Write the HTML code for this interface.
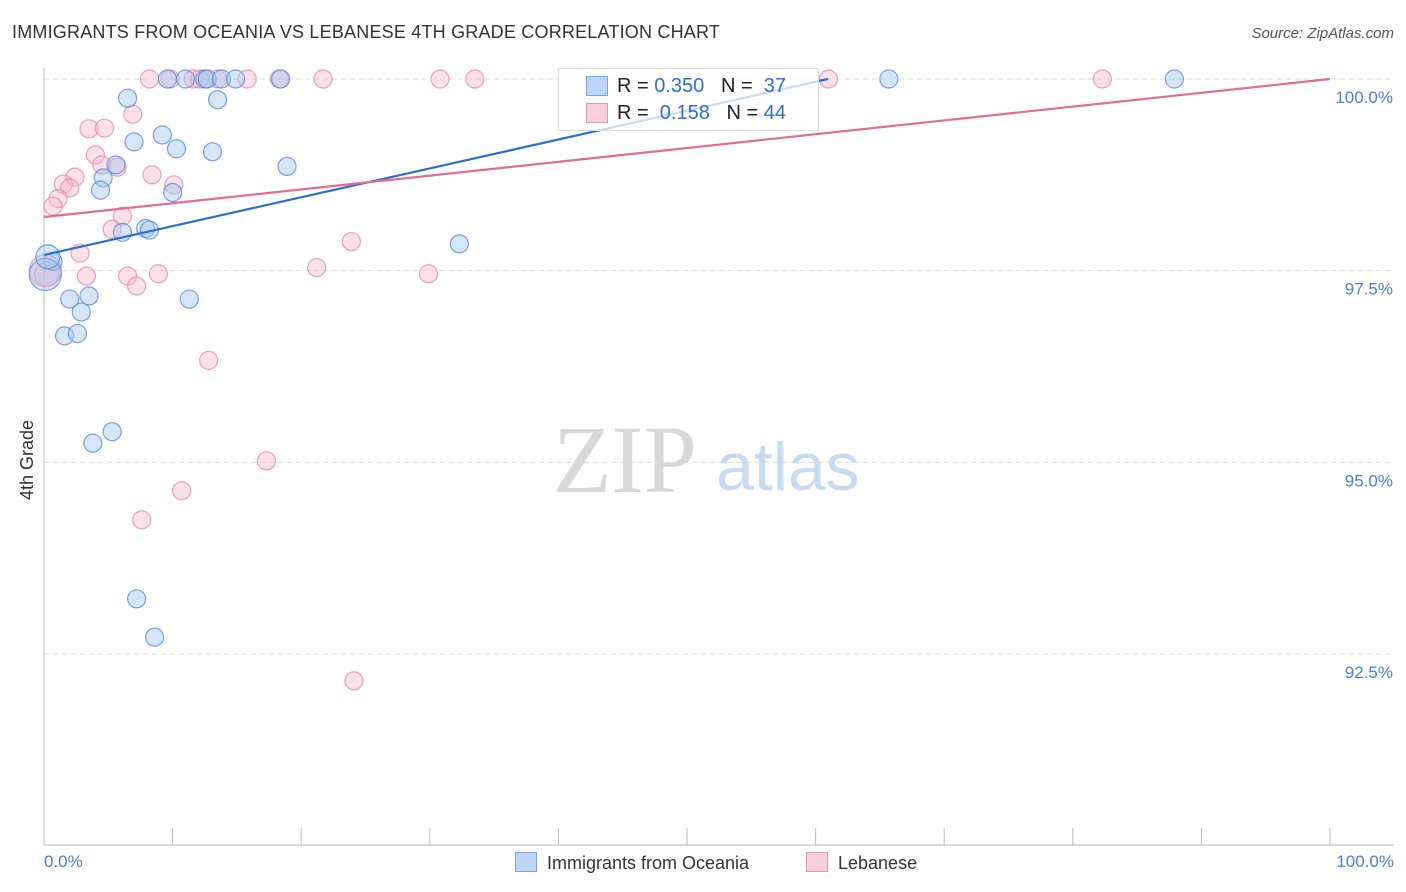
<!DOCTYPE html>
<html><head><meta charset="utf-8"><style>
body{margin:0;background:#fff;font-family:"Liberation Sans",sans-serif;}
#wrap{position:relative;width:1406px;height:892px;overflow:hidden;}
.t{position:absolute;white-space:nowrap;}
</style></head><body>
<div id="wrap">
<div class="t" style="left:12px;top:22px;font-size:18px;color:#333;letter-spacing:0.2px">IMMIGRANTS FROM OCEANIA VS LEBANESE 4TH GRADE CORRELATION CHART</div>
<div class="t" style="right:12px;top:25px;font-size:15px;color:#555;font-style:italic">Source: ZipAtlas.com</div>
<div class="t" style="left:17px;font-size:18px;color:#333;transform:rotate(-90deg);transform-origin:left top;top:500px">4th Grade</div>
<svg id="svg" width="1406" height="892" style="position:absolute;left:0;top:0"></svg>
</div>
<script>
const tickVals=[100,97.5,95,92.5];
const tickLabels=["100.0%","97.5%","95.0%","92.5%"];
const blueX=[9.6,11,12.5,12.7,13.8,14.9,18.4,65.7,87.9,6.5,13.5,9.2,7,10.3,13.1,18.9,5.6,4.6,4.4,10,7.9,8.2,6.1,32.3,0.7,0.1,3.5,2,11.3,2.9,1.6,2.6,5.3,3.8,7.2,8.6,0.3];
const blueY=[100,100,100,100,100,100,100,100,100,99.75,99.73,99.27,99.18,99.09,99.05,98.86,98.88,98.71,98.55,98.52,98.05,98.03,98,97.85,97.62,97.45,97.17,97.13,97.13,96.96,96.65,96.68,95.4,95.25,93.22,92.72,97.68];
const pinkX=[8.2,9.8,11.6,12.1,13.5,15.8,18.3,21.7,30.8,33.5,61,82.3,6.9,3.5,4.7,4,4.5,5.7,8.4,10.1,2.4,1.5,2,1.1,0.7,6.1,5.3,23.9,2.8,21.2,29.9,3.3,6.5,8.9,7.2,0.1,12.8,17.3,10.7,7.6,24.1,0.2];
const pinkY=[100,100,100,100,100,100,100,100,100,100,100,100,99.54,99.35,99.36,99.01,98.88,98.85,98.75,98.62,98.72,98.63,98.58,98.44,98.34,98.21,98.04,97.88,97.73,97.54,97.46,97.43,97.43,97.46,97.3,97.5,96.33,95.02,94.63,94.25,92.15,97.45];
const blueR=[9,9,9,9,9,9,9,9,9,9,9,9,9,9,9,9,9,9,9,9,9,9,9,9,9,16,9,9,9,9,9,9,9,9,9,9,12];
const pinkR=[9,9,9,9,9,9,9,9,9,9,9,9,9,9,9,9,9,9,9,9,9,9,9,9,9,9,9,9,9,9,9,9,9,9,9,16,9,9,9,9,9,12];
const blueTrend=[[0,97.705],[60.96,100]];
const pinkTrend=[[0,98.2],[100,100]];
const X=v=>44+v*12.86, Y=v=>79+(100-v)*76.67;
const NS="http://www.w3.org/2000/svg",svg=document.getElementById('svg');
function mk(t,a,txt){const e=document.createElementNS(NS,t);for(const k in a)e.setAttribute(k,a[k]);if(txt!=null)e.textContent=txt;svg.appendChild(e);return e;}
tickVals.forEach((v,i)=>{
 const g=mk('line',{x1:44,x2:1394,y1:Y(v),y2:Y(v),stroke:'#ddd','stroke-dasharray':'5,4'});
 
 
 const t=mk('text',{x:1393,y:Y(v)+24,'text-anchor':'end','font-size':17,fill:'#4a7fd6','font-family':'Liberation Sans'},tickLabels[i]);
 
 
});
const ax=mk('line',{x1:44,x2:44,y1:68,y2:845,stroke:'#bbb'});


const bx=mk('line',{x1:44,x2:1394,y1:845,y2:845,stroke:'#bbb'});


for(let i=0;i<=10;i++){const l=mk('line',{x1:X(i*10),x2:X(i*10),y1:828,y2:845,stroke:'#bbb'});
 
 }
const w1=mk('text',{x:553,y:492,'font-size':96,fill:'#d8d8d8','font-family':'Liberation Serif'},'ZIP');


const w2=mk('text',{x:716,y:490,'font-size':68,fill:'#c9dbf3','font-family':'Liberation Sans'},'atlas');


function pts(xs,ys,rs,fill,stroke,name){xs.forEach((x,i)=>{const c=mk('circle',{cx:X(x),cy:Y(ys[i]),r:rs[i],fill:fill,stroke:stroke,'stroke-width':1.2});
 
 });}
pts(pinkX,pinkY,pinkR,'rgba(248,180,202,0.4)','rgba(232,130,165,0.75)','lebanese-point');
pts(blueX,blueY,blueR,'rgba(164,198,240,0.45)','rgba(90,140,220,0.8)','oceania-point');
const bl=mk('line',{x1:X(blueTrend[0][0]),y1:Y(blueTrend[0][1]),x2:X(blueTrend[1][0]),y2:Y(blueTrend[1][1]),stroke:'#2a6fd6','stroke-width':2.2});


const pl=mk('line',{x1:X(pinkTrend[0][0]),y1:Y(pinkTrend[0][1]),x2:X(pinkTrend[1][0]),y2:Y(pinkTrend[1][1]),stroke:'#e46b96','stroke-width':2.2});


</script>
<div class="t" style="left:558px;top:68px;width:259px;height:61px;border:1px solid #ddd;background:rgba(255,255,255,0.75);font-size:20px;color:#222">
 <div style="position:absolute;left:27px;top:7px;width:20px;height:18px;background:#bcd5f5;border:1px solid #7aa5e5"></div>
 <div class="t" style="left:58px;top:6px">R = <span style="color:#2f6fd0">0.350</span>&nbsp;&nbsp;&nbsp;N = &nbsp;<span style="color:#2f6fd0">37</span></div>
 <div style="position:absolute;left:27px;top:34px;width:20px;height:18px;background:#fbcfdc;border:1px solid #ea95b1"></div>
 <div class="t" style="left:58px;top:33px">R = &nbsp;<span style="color:#2f6fd0">0.158</span>&nbsp;&nbsp;&nbsp;N = <span style="color:#2f6fd0">44</span></div>
</div>
<div class="t" style="left:44px;top:852px;font-size:17px;color:#4a7fd6">0.0%</div>
<div class="t" style="right:12px;top:852px;font-size:17px;color:#4a7fd6">100.0%</div>
<div class="t" style="left:515px;top:852px;font-size:18px;color:#333"><span style="display:inline-block;width:20px;height:18px;background:#bcd5f5;border:1px solid #7aa5e5;vertical-align:-3px;margin-right:10px"></span>Immigrants from Oceania</div>
<div class="t" style="left:806px;top:852px;font-size:18px;color:#333"><span style="display:inline-block;width:20px;height:18px;background:#fbcfdc;border:1px solid #ea95b1;vertical-align:-3px;margin-right:10px"></span>Lebanese</div>
</body></html>
